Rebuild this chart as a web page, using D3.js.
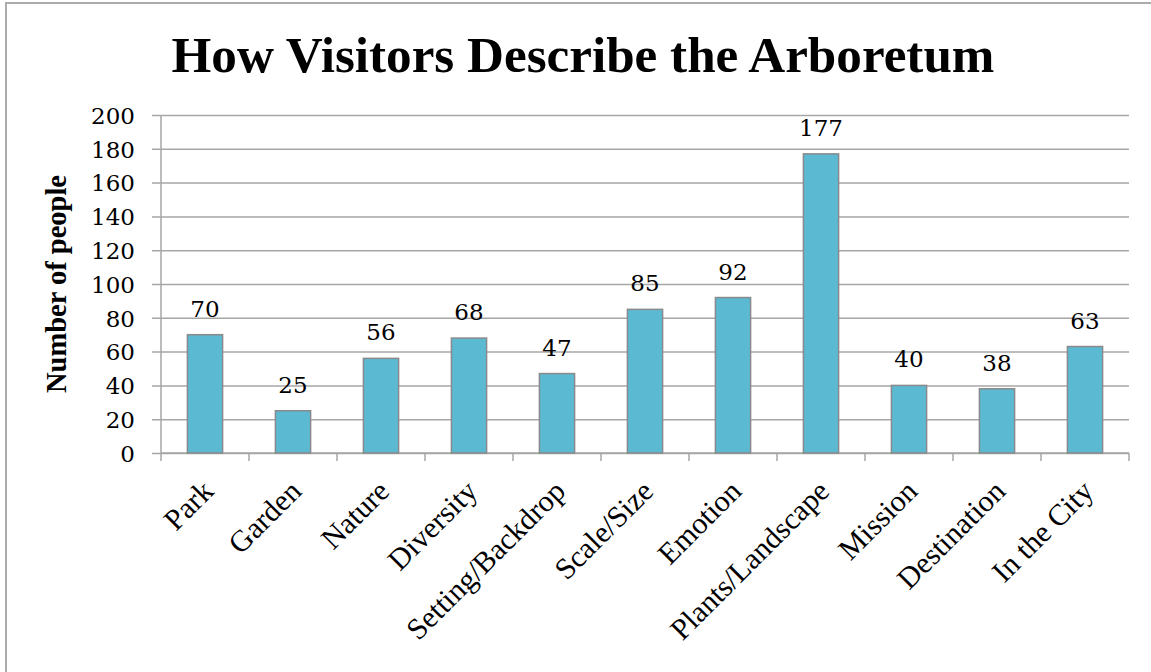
<!DOCTYPE html>
<html>
<head>
<meta charset="utf-8">
<script src="https://cdn.jsdelivr.net/npm/d3@7/dist/d3.min.js"></script>
<style>
  html, body { margin: 0; padding: 0; background: #fff; }
  svg { display: block; }
  text { font-family: "Liberation Serif", "DejaVu Serif", serif; fill: #000; }
  text.num { font-family: "DejaVu Serif", "Liberation Serif", serif; }
</style>
</head>
<body>
<svg id="chart" width="1151" height="672"></svg>
<script>
// Survey responses: words visitors used to describe the arboretum
const categories = ["Park", "Garden", "Nature", "Diversity", "Setting/Backdrop", "Scale/Size",
                    "Emotion", "Plants/Landscape", "Mission", "Destination", "In the City"];
const counts = [70, 25, 56, 68, 47, 85, 92, 177, 40, 38, 63];
const yTicks = [0, 20, 40, 60, 80, 100, 120, 140, 160, 180, 200];
const titleText = "How Visitors Describe the Arboretum";
const yAxisTitle = "Number of people";

const svg = d3.select("#chart");
const W = 1151, H = 672;
const plot = { left: 161, right: 1129, top: 115, bottom: 453 };

const gridColor = "#a6a6a6";
const barFill = "#5bb9d2";
const barStroke = "#8a8a8a";
const numSize = 23;

// scale a text element's font size so it spans a target width
function fitWidth(sel, target) {
  const node = sel.node();
  const fs = parseFloat(sel.attr("font-size"));
  const w = node.getComputedTextLength();
  sel.attr("font-size", (fs * target / w).toFixed(2));
}

// chart frame (top and left edges)
svg.append("path")
  .attr("d", `M6,${H} V3 H${W}`)
  .attr("fill", "none")
  .attr("stroke", "#acacac")
  .attr("stroke-width", 2);

const x = d3.scaleBand()
  .domain(categories)
  .range([plot.left, plot.right])
  .paddingInner(0.6)
  .paddingOuter(0.3);

const y = d3.scaleLinear()
  .domain([0, 200])
  .range([plot.bottom, plot.top]);

// horizontal gridlines with the y axis labels
const yAxis = d3.axisLeft(y)
  .tickValues(yTicks)
  .tickSize(-(plot.right - plot.left))
  .tickPadding(26)
  .tickFormat(d3.format("d"));

const gy = svg.append("g")
  .attr("transform", `translate(${plot.left},0)`)
  .call(yAxis);
gy.select(".domain").remove();
gy.selectAll(".tick line")
  .attr("x1", -9)
  .attr("stroke", gridColor)
  .attr("stroke-width", 1.5);
gy.selectAll(".tick text")
  .attr("class", "num")
  .attr("font-size", numSize)
  .attr("dy", "0.36em")
  .attr("fill", "#000");

// vertical axis line
svg.append("line")
  .attr("x1", plot.left).attr("x2", plot.left)
  .attr("y1", plot.top).attr("y2", plot.bottom)
  .attr("stroke", gridColor).attr("stroke-width", 1.5);

// category axis with ticks between the bars
const boundaries = d3.range(categories.length + 1).map(i => plot.left + i * (plot.right - plot.left) / categories.length);
const gx = svg.append("g");
gx.append("line")
  .attr("x1", plot.left).attr("x2", plot.right)
  .attr("y1", plot.bottom).attr("y2", plot.bottom)
  .attr("stroke", gridColor).attr("stroke-width", 1.5);
gx.selectAll("line.sep")
  .data(boundaries)
  .join("line")
  .attr("class", "sep")
  .attr("x1", d => d).attr("x2", d => d)
  .attr("y1", plot.bottom).attr("y2", plot.bottom + 8)
  .attr("stroke", gridColor).attr("stroke-width", 1.5);

// bars
svg.append("g")
  .selectAll("rect")
  .data(categories)
  .join("rect")
  .attr("x", d => x(d))
  .attr("y", (d, i) => y(counts[i]))
  .attr("width", x.bandwidth())
  .attr("height", (d, i) => y(0) - y(counts[i]))
  .attr("fill", barFill)
  .attr("stroke", barStroke)
  .attr("stroke-width", 1.5);

// value labels
svg.append("g")
  .selectAll("text")
  .data(categories)
  .join("text")
  .attr("class", "num")
  .attr("x", d => x(d) + x.bandwidth() / 2)
  .attr("y", (d, i) => y(counts[i]) - 18)
  .attr("text-anchor", "middle")
  .attr("font-size", numSize)
  .text((d, i) => counts[i]);

// rotated category labels
const catLabels = svg.append("g")
  .selectAll("text")
  .data(categories)
  .join("text")
  .attr("text-anchor", "end")
  .attr("font-size", 20)
  .attr("transform", d => `translate(${x(d) + x.bandwidth() / 2 + 10},${plot.bottom + 40}) rotate(-45)`)
  .text(d => d);
{
  const ref = catLabels.filter(d => d === "Plants/Landscape");
  const w = ref.node().getComputedTextLength();
  catLabels.attr("font-size", (20 * 210 / w).toFixed(2));
}

// y axis title
const yt = svg.append("text")
  .attr("transform", `translate(66,${(plot.top + plot.bottom) / 2}) rotate(-90)`)
  .attr("text-anchor", "middle")
  .attr("font-weight", "bold")
  .attr("font-size", 20)
  .text(yAxisTitle);
fitWidth(yt, 218);

// chart title
const tt = svg.append("text")
  .attr("x", 583)
  .attr("y", 72)
  .attr("text-anchor", "middle")
  .attr("font-weight", "bold")
  .attr("font-size", 44)
  .text(titleText);
fitWidth(tt, 823);
</script>
</body>
</html>
